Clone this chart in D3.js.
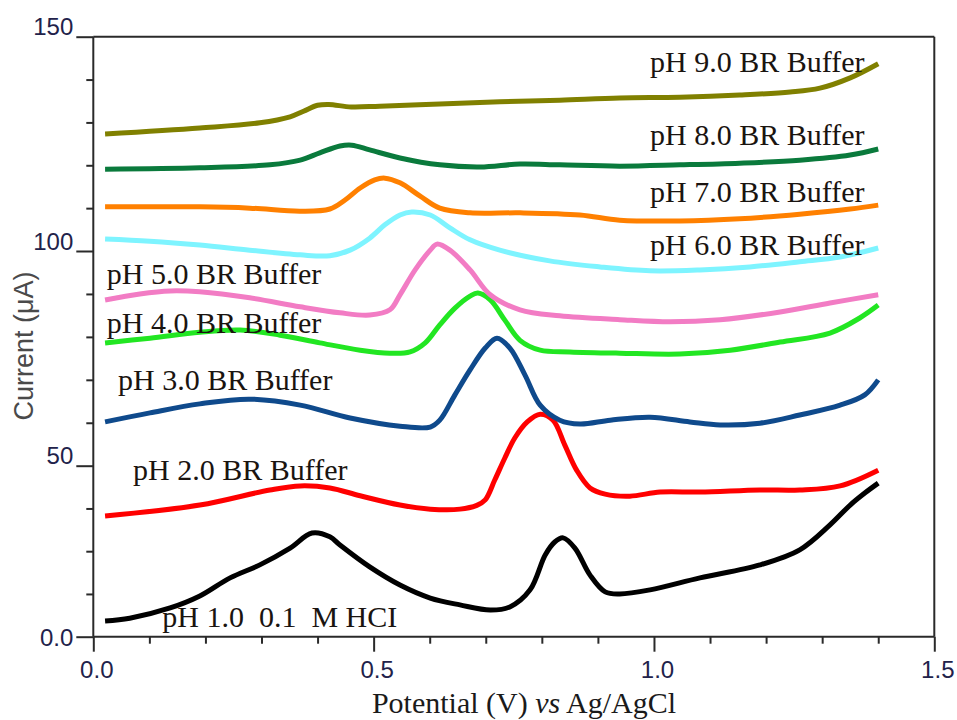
<!DOCTYPE html>
<html><head><meta charset="utf-8">
<script src="https://cdn.jsdelivr.net/npm/d3@7/dist/d3.min.js"></script>
<style>body{margin:0;background:#fff}svg{display:block}</style>
</head><body><svg id="chart" width="957" height="720"></svg>
<script>
const ph1Potential = [0.021,0.065,0.137,0.19,0.244,0.297,0.351,0.39,0.422,0.44,0.493,0.547,0.601,0.654,0.708,0.743,0.779,0.806,0.823,0.838,0.859,0.886,0.913,0.939,0.993,1.082,1.189,1.26,1.314,1.35,1.376,1.4];
const ph1Current   = [4.6,5.4,8.4,11.9,17.2,21.0,25.9,30.3,29.2,26.8,20.4,15.1,11.3,9.3,7.8,8.7,13.7,23.9,27.7,28.9,25.9,18.0,13.1,12.5,13.7,17.2,21.0,25.4,32.7,38.5,42.0,44.9];

const ph2Potential = [0.021,0.19,0.315,0.369,0.422,0.476,0.547,0.601,0.654,0.684,0.699,0.716,0.734,0.752,0.774,0.797,0.82,0.841,0.862,0.886,0.913,0.957,1.011,1.082,1.189,1.26,1.332,1.4];
const ph2Current   = [35.3,38.5,42.9,44.1,43.5,41.2,38.5,37.3,37.3,38.4,40.0,45.8,51.8,56.5,60.2,62.0,60.6,54.8,48.7,43.5,41.7,41.1,42.3,42.3,42.9,42.9,44.1,48.7];

const ph3Potential = [0.021,0.101,0.19,0.279,0.369,0.458,0.547,0.601,0.618,0.645,0.672,0.699,0.72,0.743,0.77,0.797,0.832,0.868,0.922,0.993,1.064,1.118,1.189,1.26,1.332,1.376,1.4];
const ph3Current   = [60.2,62.3,64.4,65.5,64.1,61.1,59.2,59.0,60.6,66.5,72.3,77.4,79.7,77.4,71.1,64.1,60.6,59.7,60.6,61.3,60.2,59.5,59.9,61.8,64.1,66.5,70.0];

const ph4Potential = [0.021,0.101,0.19,0.262,0.333,0.404,0.476,0.529,0.565,0.592,0.618,0.645,0.672,0.686,0.708,0.734,0.761,0.797,0.85,0.939,1.046,1.136,1.225,1.314,1.367,1.4];
const ph4Current   = [78.6,79.7,81.1,81.6,80.4,78.6,76.9,76.2,76.5,78.6,82.8,86.7,89.5,90.2,88.6,83.9,79.2,76.9,76.5,76.2,76.0,76.9,78.8,80.9,84.4,87.4];

const ph5Potential = [0.021,0.083,0.137,0.19,0.279,0.369,0.44,0.493,0.529,0.547,0.574,0.601,0.613,0.636,0.672,0.708,0.761,0.832,0.939,1.029,1.118,1.225,1.314,1.4];
const ph5Current   = [88.6,90.0,90.7,90.5,89.1,87.0,85.6,85.1,86.3,89.8,95.6,100.2,101.6,100.2,95.6,89.8,86.3,84.9,84.0,83.5,84.0,85.8,87.9,89.8];

const ph6Potential = [0.021,0.101,0.19,0.279,0.369,0.422,0.458,0.493,0.52,0.547,0.568,0.601,0.636,0.672,0.725,0.814,0.904,0.993,1.082,1.171,1.26,1.332,1.4];
const ph6Current   = [102.8,102.3,101.4,100.2,99.1,98.9,100.2,103.0,106.1,108.4,109.1,108.4,105.4,102.6,100.2,97.7,96.3,95.4,95.6,96.3,97.5,98.6,100.7];

const ph7Potential = [0.021,0.19,0.279,0.369,0.422,0.449,0.476,0.502,0.52,0.547,0.583,0.618,0.672,0.761,0.868,0.939,1.046,1.153,1.26,1.35,1.4];
const ph7Current   = [110.3,110.3,110.0,109.3,109.8,111.9,114.7,116.6,117.0,115.9,112.8,110.0,108.9,108.9,108.4,107.2,107.0,107.5,108.6,109.8,110.7];

const ph8Potential = [0.021,0.19,0.315,0.369,0.404,0.44,0.461,0.493,0.547,0.618,0.69,0.761,0.832,0.939,1.046,1.153,1.26,1.35,1.4];
const ph8Current   = [119.1,119.4,120.1,121.2,122.9,124.5,124.7,123.6,121.7,120.1,119.6,120.3,120.1,119.8,120.1,120.5,121.2,122.4,123.8];

const ph9Potential = [0.021,0.19,0.297,0.351,0.375,0.40,0.42,0.46,0.511,0.618,0.725,0.832,0.939,1.046,1.153,1.243,1.296,1.35,1.4];
const ph9Current   = [127.3,128.7,129.9,131.3,132.6,134.0,134.2,133.6,133.8,134.3,134.8,135.2,135.7,135.9,136.4,137.1,138.0,140.4,143.7];

const seriesNames  = ["pH 1.0  0.1  M HCI","pH 2.0 BR Buffer","pH 3.0 BR Buffer","pH 4.0 BR Buffer","pH 5.0 BR Buffer","pH 6.0 BR Buffer","pH 7.0 BR Buffer","pH 8.0 BR Buffer","pH 9.0 BR Buffer"];
const seriesPotential = [ph1Potential,ph2Potential,ph3Potential,ph4Potential,ph5Potential,ph6Potential,ph7Potential,ph8Potential,ph9Potential];
const seriesCurrent   = [ph1Current,ph2Current,ph3Current,ph4Current,ph5Current,ph6Current,ph7Current,ph8Current,ph9Current];
const seriesColors = ["#000000","#ff0000","#0f4a8c","#22e622","#f27cc4","#7ef4ff","#ff8000","#0a7a3c","#808000"];

// label anchors (left x in V, baseline in µA)
const labelPotential = [0.123,0.071,0.044,0.024,0.024,0.993,0.993,0.993,0.993];
const labelCurrent   = [2.8,45.8,67.6,80.9,92.3,99.1,111.4,124.7,141.8];

const xMajorTicks = [0, 0.5, 1.0, 1.5];
const xTickLabels = ["0.0","0.5","1.0","1.5"];
const xMinorTicks = [0.1,0.2,0.3,0.4,0.6,0.7,0.8,0.9,1.1,1.2,1.3,1.4];
const yMajorTicks = [0, 50, 100, 150];
const yTickLabels = ["0.0","50","100","150"];
const yMinorTicks = [12.5,25,37.5,60,70,80,90,110,120,130,140];

// ---- layout ----
const svg = d3.select("#chart");
const L = 93.3, R = 934.3, T = 36.7, B = 636.7;
const x = d3.scaleLinear().domain([0, 1.5]).range([L, R]);
const y = d3.scaleLinear().domain([0, 50, 100, 150]).range([B, 465.7, 251, T]);
const axisColor = "#2a2a2a";
const tickFont = "'Liberation Sans', Arial, sans-serif";
const serif = "'Liberation Serif', 'Times New Roman', serif";

function styleAxis(g) {
  g.select(".domain").remove();
  g.selectAll("line").attr("stroke", axisColor).attr("stroke-width", 2);
}

// curves
const line = d3.line().curve(d3.curveCatmullRom.alpha(0.5));
seriesCurrent.forEach((cur, i) => {
  const pts = cur.map((c, j) => [x(seriesPotential[i][j]), y(c)]);
  svg.append("path").attr("d", line(pts)).attr("fill", "none")
    .attr("stroke", seriesColors[i]).attr("stroke-width", 5)
    .attr("stroke-linejoin", "round").attr("stroke-linecap", "butt");
});

// frame lines
[[L, T, R, T], [R, T, R, B], [L, T, L, B], [L, B, R, B]].forEach(s => {
  svg.append("line").attr("x1", s[0]).attr("y1", s[1]).attr("x2", s[2]).attr("y2", s[3])
    .attr("stroke", axisColor).attr("stroke-width", 2);
});

// x axis ticks
svg.append("g").attr("transform", `translate(0,${B})`)
  .call(d3.axisBottom(x).tickValues(xMinorTicks).tickSize(7).tickFormat(""))
  .call(styleAxis);
const gxM = svg.append("g").attr("transform", `translate(0,${B})`)
  .call(d3.axisBottom(x).tickValues(xMajorTicks).tickSize(15).tickFormat((d, i) => xTickLabels[i]))
  .call(styleAxis);
gxM.selectAll("text").attr("font-family", tickFont).attr("font-size", 24).attr("fill", "#22224a")
  .attr("y", 41).attr("dy", 0).attr("dx", 3);

// y axis ticks
svg.append("g").attr("transform", `translate(${L},0)`)
  .call(d3.axisLeft(y).tickValues(yMinorTicks).tickSize(7).tickFormat(""))
  .call(styleAxis);
const gyM = svg.append("g").attr("transform", `translate(${L},0)`)
  .call(d3.axisLeft(y).tickValues(yMajorTicks).tickSize(17).tickFormat((d, i) => yTickLabels[i]))
  .call(styleAxis);
gyM.selectAll("text").attr("font-family", tickFont).attr("font-size", 24).attr("fill", "#22224a")
  .attr("x", -20).attr("dy", d => d === 0 ? "0.36em" : "-0.08em");

// axis titles
svg.append("text").attr("transform", "translate(33,346) rotate(-90)")
  .attr("text-anchor", "middle").attr("font-family", tickFont).attr("font-size", 27)
  .attr("fill", "#4a4a4a").text("Current (μA)");
const xt = svg.append("text").attr("x", 524).attr("y", 713).attr("text-anchor", "middle")
  .attr("font-family", serif).attr("font-size", 30).attr("fill", "#1a1a1a");
xt.append("tspan").text("Potential (V) ");
xt.append("tspan").attr("font-style", "italic").text("vs");
xt.append("tspan").text(" Ag/AgCl");

// curve labels
seriesNames.forEach((n, i) => {
  svg.append("text").attr("x", x(labelPotential[i])).attr("y", y(labelCurrent[i]))
    .attr("font-family", serif).attr("font-size", 30).attr("fill", "#1a1410")
    .style("white-space", "pre").attr("xml:space", "preserve").text(n);
});
</script></body></html>
